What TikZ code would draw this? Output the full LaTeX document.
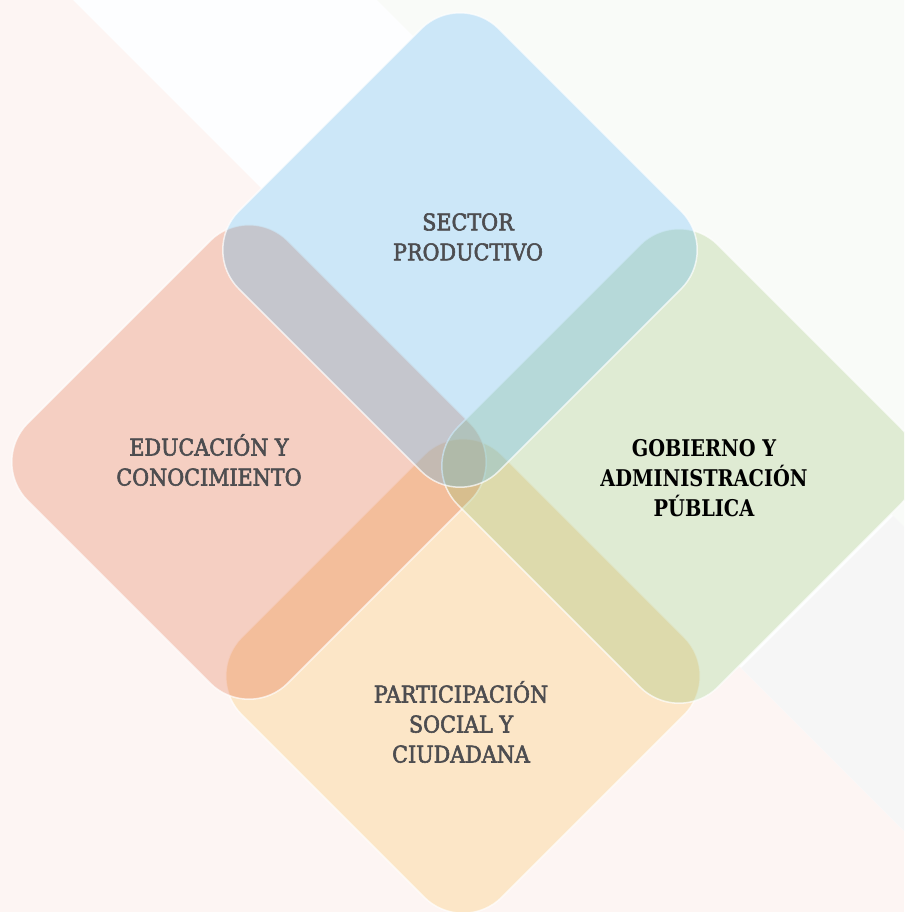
\documentclass[tikz,border=0pt]{standalone}
\usepackage{fontspec}
\newfontfamily\slabfont[FakeStretch=0.9, FakeBold=2.5]{DejaVu Serif}
\newfontfamily\slabbold[FakeStretch=0.84]{DejaVu Serif Bold}
\usetikzlibrary{positioning}

\definecolor{bgpink}{RGB}{253,245,243}
\definecolor{bgwhite}{RGB}{253,254,255}
\definecolor{bggreen}{RGB}{249,251,248}
\definecolor{bggrey}{RGB}{246,246,246}
\definecolor{cblue}{RGB}{88,178,232}
\definecolor{cred}{RGB}{225,98,55}
\definecolor{cgreen}{RGB}{152,192,112}
\definecolor{cyellow}{RGB}{248,175,72}
\definecolor{txtgrey}{RGB}{77,77,80}

\tikzset{
	petal/.style={fill=#1, fill opacity=0.3, draw=white, draw opacity=0.7,
		line width=1.5pt, rounded corners=55pt},
	petalbase/.style={fill=white, rounded corners=55pt},
	areatext/.style={align=center, text=txtgrey,
		font=\slabfont\fontsize{23}{30}\selectfont},
}

\begin{document}
\begin{tikzpicture}[x=1pt,y=-1pt]
	\useasboundingbox (0,0) rectangle (904,912);
	\clip (0,0) rectangle (904,912);
	
	%background
	\fill[bgpink]  (0,0) rectangle (904,912);
	\fill[bgwhite] (73,0) -- (904,0) -- (904,831) -- cycle;
	\fill[bggreen] (377,0) -- (904,0) -- (904,527) -- cycle;
	\fill[bggrey]  (741,668) -- (893,516) -- (904,527) -- (904,831) -- cycle;
	
	%white under the areas
	\foreach \cx/\cy in {463/676, 249/462, 679/466, 460/250}
		\fill[petalbase, shift={(\cx,\cy)}] (130,-130) -- (260,0) -- (0,260) -- (-260,0) -- (0,-260) -- cycle;
	
	%areas
	\draw[petal=cyellow, shift={(463,676)}] (130,-130) -- (260,0) -- (0,260) -- (-260,0) -- (0,-260) -- cycle;	%participacion
	\draw[petal=cred,    shift={(249,462)}] (130,-130) -- (260,0) -- (0,260) -- (-260,0) -- (0,-260) -- cycle;	%educacion
	\draw[petal=cgreen,  shift={(679,466)}] (130,-130) -- (260,0) -- (0,260) -- (-260,0) -- (0,-260) -- cycle;	%gobierno
	\draw[petal=cblue,   shift={(460,250)}] (130,-130) -- (260,0) -- (0,260) -- (-260,0) -- (0,-260) -- cycle;	%sector
	
	%labels
	\node[areatext] (sector)    at (468,237) {SECTOR\\PRODUCTIVO};
	\node[areatext] (educacion) at (209,460) {EDUCACIÓN Y\\CONOCIMIENTO};
	\node[areatext, text=black, font=\slabbold\fontsize{23}{30}\selectfont]
		(gobierno) at (704,478) {GOBIERNO Y\\ADMINISTRACIÓN\\PÚBLICA};
	\node[areatext] (participacion) at (461,722) {PARTICIPACIÓN\\SOCIAL Y\\CIUDADANA};
	
\end{tikzpicture}
\end{document}
